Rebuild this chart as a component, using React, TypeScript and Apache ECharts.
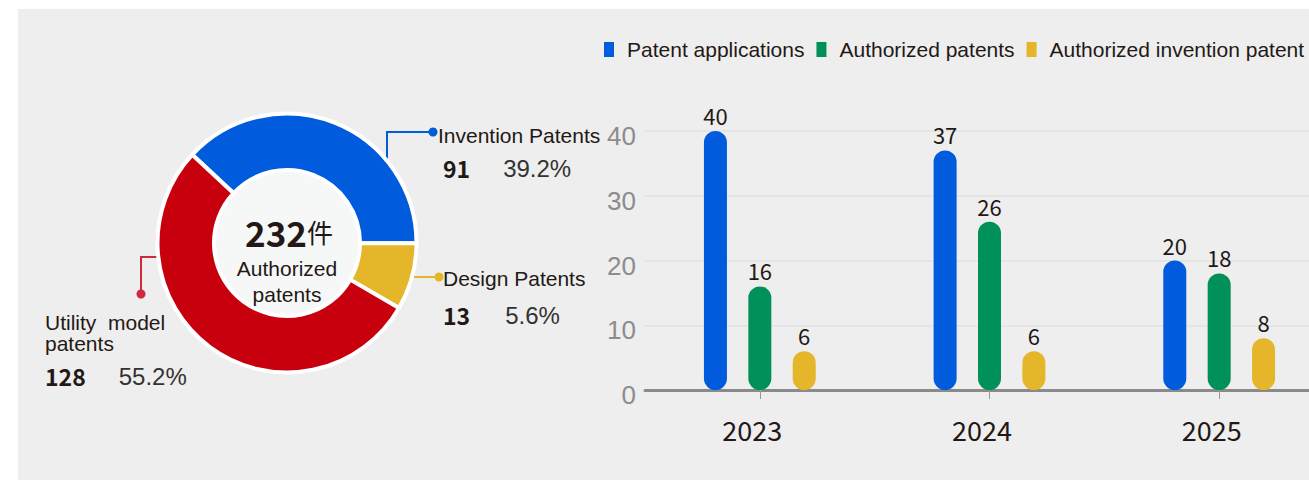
import React, { useEffect, useRef } from 'react';
import * as echarts from 'echarts';

// ---------- data ----------
const years = ['2023', '2024', '2025'];
const seriesNames = ['Patent applications', 'Authorized patents', 'Authorized invention patent'];
const patentApplications = [40, 37, 20];
const authorizedPatents = [16, 26, 18];
const authorizedInventionPatents = [6, 6, 8];
const yMin = 0;
const yMax = 40;
const yInterval = 10;

const pieNames = ['Invention Patents', 'Design Patents', 'Utility  model\npatents'];
const pieValues = [91, 13, 128];
const centerUnit = '件';
const centerCaption = 'Authorized\npatents';

// ---------- styles ----------
const BLUE = '#005bdd';
const GREEN = '#00905a';
const YELLOW = '#e6b62a';
const RED = '#c8000d';
const TEXT = '#231815';
const LS = '"Liberation Sans", Arial, sans-serif';
const CJK = '"Noto Sans CJK SC", "Noto Sans", sans-serif';

const pieColors = [BLUE, YELLOW, RED];
const leaderColors = [BLUE, YELLOW, '#d0283c'];
const pieCenter = [287, 243];
const pieLabelAnchors = [
  { x: 438, y: 120 },
  { x: 443, y: 263 },
  { x: 45, y: 312 },
];
const pieLeaderPoints = [
  [[387, 168], [387, 132], [433, 132]],
  [[406, 277], [422, 277], [439, 277]],
  [[161, 257], [141, 257], [141, 294]],
];

export default function App() {
  const ref = useRef<HTMLDivElement>(null);

  useEffect(() => {
    if (!ref.current) return;
    const chart = echarts.init(ref.current, undefined, { renderer: 'svg' });
    const total = pieValues.reduce((a, b) => a + b, 0);
    const pct = (v: number) => ((v / total) * 100).toFixed(1) + '%';

    const barLabel = {
      show: true,
      position: 'top',
      distance: 5,
      fontSize: 22,
      fontFamily: CJK,
      color: TEXT,
    };
    const barCommon = {
      type: 'bar',
      barWidth: 23,
      barGap: '93%',
      label: barLabel,
    };

    const option: any = {
      animation: false,
      legend: {
        data: seriesNames,
        left: 604,
        top: 39,
        padding: 0,
        icon: 'rect',
        itemWidth: 10,
        itemHeight: 15,
        itemGap: 12,
        textStyle: { fontSize: 21, fontFamily: LS, color: TEXT, padding: [0, 0, 0, 8] },
      },
      grid: { left: 645, width: 689, top: 131, height: 259, outerBoundsMode: 'none', containLabel: false },
      xAxis: {
        type: 'category',
        data: years,
        axisLine: { lineStyle: { color: '#8a8a8a', width: 3 } },
        axisTick: { show: true, alignWithLabel: true, length: 9, lineStyle: { color: '#9a9a9a', width: 1 } },
        axisLabel: { fontSize: 27, fontFamily: CJK, color: TEXT, margin: 26, padding: [0, 15, 0, 0] },
      },
      yAxis: {
        type: 'value',
        min: yMin,
        max: yMax,
        interval: yInterval,
        axisLine: { show: false },
        axisTick: { show: false },
        axisLabel: {
          fontSize: 26,
          fontFamily: LS,
          color: '#8c8c8c',
          margin: 9,
          verticalAlign: 'top',
          lineHeight: 10,
        },
        splitLine: { lineStyle: { color: '#e2e2e2', width: 1.5 } },
      },
      series: [
        { ...barCommon, name: seriesNames[0], data: patentApplications, itemStyle: { color: BLUE, borderRadius: 12 } },
        { ...barCommon, name: seriesNames[1], data: authorizedPatents, itemStyle: { color: GREEN, borderRadius: 12 } },
        { ...barCommon, name: seriesNames[2], data: authorizedInventionPatents, itemStyle: { color: YELLOW, borderRadius: 12 } },
        {
          type: 'pie',
          silent: true,
          center: pieCenter,
          radius: [0, 73],
          z: 1,
          label: { show: false },
          labelLine: { show: false },
          itemStyle: { color: '#f6f7f7' },
          data: [{ value: 1, name: 'center' }],
        },
        {
          type: 'pie',
          silent: true,
          center: pieCenter,
          radius: [73, 129.5],
          clockwise: true,
          startAngle: 137,
          minAngle: 30,
          avoidLabelOverlap: false,
          itemStyle: { borderColor: '#ffffff', borderWidth: 4 },
          label: {
            show: true,
            position: 'outside',
            formatter: (p: any) => {
              const i = p.dataIndex;
              if (i === 2) {
                return (
                  String(p.name).split('\n').map((s: string) => `{n2|${s}}`).join('\n') +
                  `\n{v3|${p.value}}{p3|${pct(p.value)}}`
                );
              }
              if (i === 1) return `{n|${p.name}}\n{v2|${p.value}}{p2|${pct(p.value)}}`;
              return `{n|${p.name}}\n{v|${p.value}}{p|${pct(p.value)}}`;
            },
            rich: {
              n: { fontSize: 21, lineHeight: 30, fontFamily: LS, color: TEXT },
              n2: { fontSize: 21, lineHeight: 21, fontFamily: LS, color: TEXT },
              v: { fontSize: 23, lineHeight: 36, fontWeight: 'bold', fontFamily: CJK, color: TEXT, padding: [0, 0, 0, 5] },
              p: { fontSize: 24, lineHeight: 36, fontFamily: LS, color: '#333333', padding: [0, 0, 0, 33] },
              v2: { fontSize: 23, lineHeight: 44, fontWeight: 'bold', fontFamily: CJK, color: TEXT },
              p2: { fontSize: 24, lineHeight: 44, fontFamily: LS, color: '#333333', padding: [0, 0, 0, 35] },
              v3: { fontSize: 23, lineHeight: 44, fontWeight: 'bold', fontFamily: CJK, color: TEXT, padding: [0, 0, 0, 0] },
              p3: { fontSize: 24, lineHeight: 44, fontFamily: LS, color: '#333333', padding: [0, 0, 0, 33] },
            },
          },
          labelLine: { show: true, length: 10, length2: 10, lineStyle: { width: 2 } },
          labelLayout: (params: any) => {
            const i = params.dataIndex;
            return {
              x: pieLabelAnchors[i].x,
              y: pieLabelAnchors[i].y,
              align: 'left',
              verticalAlign: 'top',
              labelLinePoints: pieLeaderPoints[i],
            };
          },
          data: pieValues.map((v, i) => ({
            value: v,
            name: pieNames[i],
            itemStyle: { color: pieColors[i] },
            labelLine: { lineStyle: { color: leaderColors[i], width: 2 } },
          })),
        },
      ],
      graphic: [
        {
          type: 'text',
          x: pieCenter[0] + 2,
          y: 231,
          z: 10,
          style: {
            text: `{num|${total}}{unit|${centerUnit}}`,
            align: 'center',
            verticalAlign: 'middle',
            rich: {
              num: { fontSize: 35, fontWeight: 'bold', fontFamily: CJK, fill: TEXT },
              unit: { fontSize: 26, fontFamily: CJK, fill: TEXT },
            },
          },
        },
        {
          type: 'text',
          x: pieCenter[0],
          y: 281,
          z: 10,
          style: {
            text: centerCaption,
            align: 'center',
            verticalAlign: 'middle',
            fontSize: 21,
            fontFamily: LS,
            lineHeight: 26,
            fill: TEXT,
          },
        },
        ...pieLeaderPoints.map((pts, i) => ({
          type: 'circle',
          z: 10,
          shape: { cx: pts[2][0], cy: pts[2][1], r: 4.5 },
          style: { fill: leaderColors[i] },
        })),
      ],
    };

    chart.setOption(option);
    return () => chart.dispose();
  }, []);

  return (
    <div style={{ position: 'fixed', left: 0, top: 0, width: 1309, height: 480, background: '#ffffff', overflow: 'hidden' }}>
      <div style={{ position: 'absolute', left: 18, top: 9, right: 0, bottom: 0, background: '#eeeeee' }} />
      <div ref={ref} style={{ position: 'absolute', left: 0, top: 0, width: 1309, height: 480 }} />
    </div>
  );
}
